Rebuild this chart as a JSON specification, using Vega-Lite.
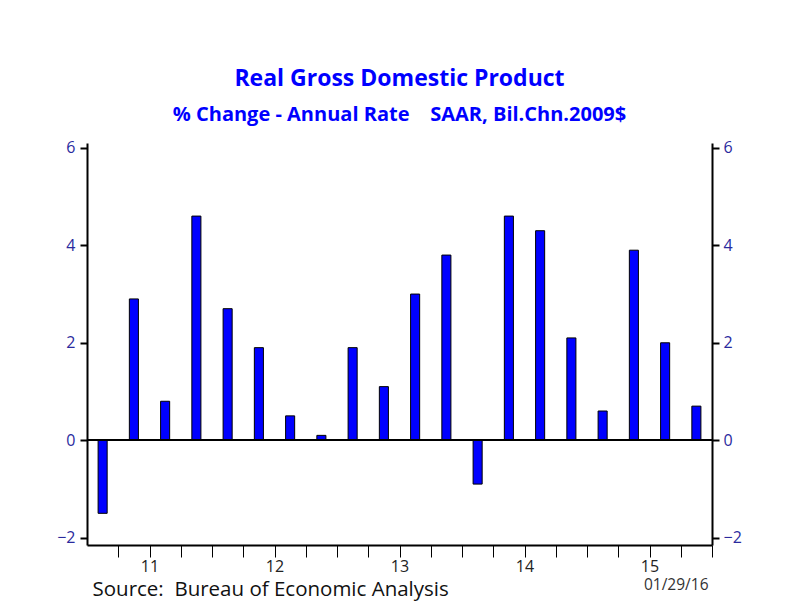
{
  "$schema": "https://vega.github.io/schema/vega-lite/v6.json",
  "width": 625,
  "height": 402,
  "autosize": "none",
  "padding": {"left": 87, "top": 143, "right": 89, "bottom": 56},
  "background": "white",
  "config": {"view": {"stroke": null}, "font": "Open Sans"},
  "title": {
    "text": "Real Gross Domestic Product",
    "subtitle": "% Change - Annual Rate\u00a0\u00a0\u00a0\u00a0SAAR, Bil.Chn.2009$",
    "anchor": "middle",
    "color": "#0000ff",
    "subtitleColor": "#0000ff",
    "fontSize": 23,
    "fontWeight": "bold",
    "subtitleFontSize": 20,
    "subtitleFontWeight": "bold",
    "subtitlePadding": 14,
    "offset": 15
  },
  "data": {
    "values": [
      {"quarter": "2011 Q1", "value": -1.5},
      {"quarter": "2011 Q2", "value": 2.9},
      {"quarter": "2011 Q3", "value": 0.8},
      {"quarter": "2011 Q4", "value": 4.6},
      {"quarter": "2012 Q1", "value": 2.7},
      {"quarter": "2012 Q2", "value": 1.9},
      {"quarter": "2012 Q3", "value": 0.5},
      {"quarter": "2012 Q4", "value": 0.1},
      {"quarter": "2013 Q1", "value": 1.9},
      {"quarter": "2013 Q2", "value": 1.1},
      {"quarter": "2013 Q3", "value": 3.0},
      {"quarter": "2013 Q4", "value": 3.8},
      {"quarter": "2014 Q1", "value": -0.9},
      {"quarter": "2014 Q2", "value": 4.6},
      {"quarter": "2014 Q3", "value": 4.3},
      {"quarter": "2014 Q4", "value": 2.1},
      {"quarter": "2015 Q1", "value": 0.6},
      {"quarter": "2015 Q2", "value": 3.9},
      {"quarter": "2015 Q3", "value": 2.0},
      {"quarter": "2015 Q4", "value": 0.7}
    ]
  },
  "encoding": {
    "x": {
      "field": "quarter",
      "type": "ordinal",
      "sort": null,
      "scale": {"paddingInner": 0.71, "paddingOuter": 0.355},
      "axis": {
        "title": "Source:\u00a0\u00a0Bureau of Economic Analysis",
        "titleAnchor": "start",
        "titleAlign": "left",
        "titleX": 5,
        "titleY": 50,
        "titleBaseline": "alphabetic",
        "titleFontSize": 20.5,
        "titleFontWeight": "normal",
        "titleColor": "#111111",
        "labelAngle": 0,
        "labelExpr": "indexof(datum.value, 'Q2') >= 0 ? substring(datum.value, 2, 4) : ''",
        "tickOffset": 15.625,
        "labelOffset": 0,
        "labelFontSize": 16,
        "labelColor": "#222222",
        "labelPadding": 1,
        "tickSize": 12,
        "tickColor": "black",
        "tickWidth": 1,
        "domainColor": "black",
        "domainWidth": 2,
        "grid": false
      }
    }
  },
  "layer": [
    {
      "mark": {"type": "bar", "color": "#0000ff", "stroke": "black", "strokeWidth": 1},
      "encoding": {
        "y": {
          "field": "value",
          "type": "quantitative",
          "scale": {"domain": [-2.15, 6.1], "nice": false, "zero": false},
          "axis": {
            "orient": "left",
            "title": null,
            "values": [-2, 0, 2, 4, 6],
            "grid": false,
            "labelFontSize": 16,
            "labelColor": "#2a2a9e",
            "labelPadding": 5,
            "tickSize": 7,
            "tickColor": "black",
            "tickWidth": 2,
            "domainColor": "black",
            "domainWidth": 2
          }
        }
      }
    },
    {
      "mark": {"type": "bar", "opacity": 0},
      "encoding": {
        "y": {
          "field": "value",
          "type": "quantitative",
          "axis": {
            "orient": "right",
            "title": "01/29/16",
            "titleAngle": 0,
            "titleAlign": "right",
            "titleBaseline": "alphabetic",
            "titleX": -4,
            "titleY": 446,
            "titleFontSize": 15.5,
            "titleFontWeight": "normal",
            "titleColor": "#333333",
            "values": [-2, 0, 2, 4, 6],
            "grid": false,
            "labelFontSize": 16,
            "labelColor": "#2a2a9e",
            "labelPadding": 4,
            "tickSize": 7,
            "tickColor": "black",
            "tickWidth": 2,
            "domainColor": "black",
            "domainWidth": 2
          }
        }
      }
    },
    {
      "mark": {"type": "rule", "color": "black", "strokeWidth": 1},
      "encoding": {
        "x": {"value": 0},
        "x2": {"value": 625},
        "y": {"datum": 0, "type": "quantitative", "axis": null}
      }
    }
  ],
  "resolve": {"axis": {"y": "independent"}}
}
